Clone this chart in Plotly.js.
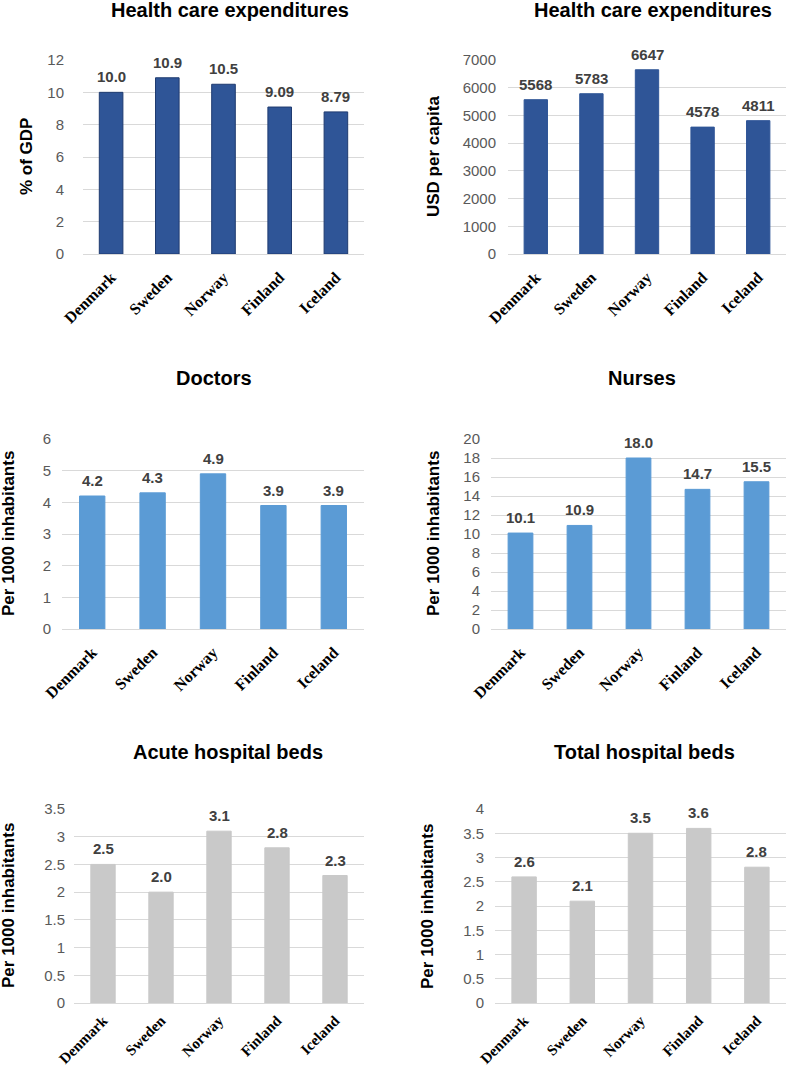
<!DOCTYPE html>
<html>
<head>
<meta charset="utf-8">
<script src="https://cdn.plot.ly/plotly-3.0.1.min.js"></script>
<style>
  body { margin: 0; background: #fff; }
  #plot { width: 787px; height: 1071px; }
</style>
</head>
<body>
<div id="plot"></div>
<script>
// data
var countries = ['Denmark', 'Sweden', 'Norway', 'Finland', 'Iceland'];
var gdpShare = [10.0, 10.9, 10.5, 9.09, 8.79];
var usdPerCapita = [5568, 5783, 6647, 4578, 4811];
var doctors = [4.2, 4.3, 4.9, 3.9, 3.9];
var nurses = [10.1, 10.9, 18.0, 14.7, 15.5];
var acuteBeds = [2.5, 2.0, 3.1, 2.8, 2.3];
var totalBeds = [2.6, 2.1, 3.5, 3.6, 2.8];

var W = 787, H = 1071;
var darkBlue = '#2F5597', lightBlue = '#5B9BD5', grey = '#C9C9C9';

function fx(px) { return px / W; }
function fy(py) { return 1 - py / H; }

var panels = [
  { title: 'Health care expenditures', ytitle: '% of GDP', vals: gdpShare, color: darkBlue, edge: '#1F3B70',
    range: [0, 12], dtick: 2, fmt: function (v) { return v.toPrecision(3); },
    x: [83, 364], y: [60, 254], titleX: 230, titleY: 10, ytX: 26, standoff: 18, xoff: 10, xsize: 16 },
  { title: 'Health care expenditures', ytitle: 'USD per capita', vals: usdPerCapita, color: darkBlue, edge: darkBlue,
    range: [0, 7000], dtick: 1000, fmt: function (v) { return String(v); },
    x: [508, 786], y: [60, 254], titleX: 653, titleY: 10, ytX: 433, standoff: 11, xoff: 10, xsize: 16 },
  { title: 'Doctors', ytitle: 'Per 1000 inhabitants', vals: doctors, color: lightBlue, edge: lightBlue,
    range: [0, 6], dtick: 1, fmt: function (v) { return v.toFixed(1); },
    x: [62, 364], y: [439, 629], titleX: 214, titleY: 378, ytX: 8, standoff: 10, xoff: 10, xsize: 16 },
  { title: 'Nurses', ytitle: 'Per 1000 inhabitants', vals: nurses, color: lightBlue, edge: lightBlue,
    range: [0, 20], dtick: 2, fmt: function (v) { return v.toFixed(1); },
    x: [491, 786], y: [439, 629], titleX: 642, titleY: 378, ytX: 433, standoff: 10, xoff: 10, xsize: 16 },
  { title: 'Acute hospital beds', ytitle: 'Per 1000 inhabitants', vals: acuteBeds, color: grey, edge: grey,
    range: [0, 3.5], dtick: 0.5, fmt: function (v) { return v.toFixed(1); },
    x: [74, 364], y: [809, 1003], titleX: 228, titleY: 752, ytX: 8, standoff: 8, xoff: 5, xsize: 15 },
  { title: 'Total hospital beds', ytitle: 'Per 1000 inhabitants', vals: totalBeds, color: grey, edge: grey,
    range: [0, 4], dtick: 0.5, fmt: function (v) { return v.toFixed(1); },
    x: [495, 786], y: [809, 1003], titleX: 644, titleY: 752, ytX: 427, standoff: 10, xoff: 5, xsize: 15 }
];

var traces = [];
var annotations = [];
var layout = {
  width: W, height: H,
  margin: { l: 0, r: 0, t: 0, b: 0 },
  paper_bgcolor: '#fff', plot_bgcolor: '#fff',
  showlegend: false,
  bargap: 0.58,
  font: { family: 'Liberation Sans, Arial, sans-serif' }
};

panels.forEach(function (p, i) {
  var n = i === 0 ? '' : String(i + 1);
  traces.push({
    type: 'bar',
    x: countries,
    y: p.vals,
    xaxis: 'x' + n,
    yaxis: 'y' + n,
    marker: { color: p.color, line: { width: 1, color: p.edge } },
    hoverinfo: 'x+y'
  });

  layout['xaxis' + n] = {
    domain: [fx(p.x[0]), fx(p.x[1])],
    anchor: 'y' + n,
    type: 'category',
    showgrid: false, zeroline: false, showline: false,
    tickangle: -45,
    ticklabelstandoff: p.xoff,
    tickfont: { family: 'Liberation Serif, Times New Roman, serif', size: p.xsize, color: '#000', weight: 'bold' }
  };
  layout['yaxis' + n] = {
    domain: [fy(p.y[1]), fy(p.y[0])],
    anchor: 'x' + n,
    range: p.range,
    dtick: p.dtick,
    showgrid: true, gridcolor: '#D9D9D9', gridwidth: 1,
    zeroline: true, zerolinecolor: '#D9D9D9', zerolinewidth: 1,
    showline: false,
    ticklabelstandoff: p.standoff,
    tickfont: { size: 15, color: '#595959' }
  };

  annotations.push({
    xref: 'paper', yref: 'paper', x: fx(p.titleX), y: fy(p.titleY),
    xanchor: 'center', yanchor: 'middle', showarrow: false,
    text: '<b>' + p.title + '</b>',
    font: { size: 20, color: '#000' }
  });
  annotations.push({
    xref: 'paper', yref: 'paper', x: fx(p.ytX), y: fy((p.y[0] + p.y[1]) / 2),
    xanchor: 'center', yanchor: 'middle', showarrow: false, textangle: -90,
    text: '<b>' + p.ytitle + '</b>',
    font: { size: 17, color: '#000' }
  });
  p.vals.forEach(function (v, k) {
    annotations.push({
      xref: 'x' + n, yref: 'y' + n, x: countries[k], y: v,
      xanchor: 'center', yanchor: 'bottom', yshift: 5, showarrow: false,
      text: '<b>' + p.fmt(v) + '</b>',
      font: { size: 15, color: '#404040' }
    });
  });
});

layout.annotations = annotations;

Plotly.newPlot(document.getElementById('plot'), traces, layout, { displayModeBar: false, staticPlot: true });
</script>
</body>
</html>
